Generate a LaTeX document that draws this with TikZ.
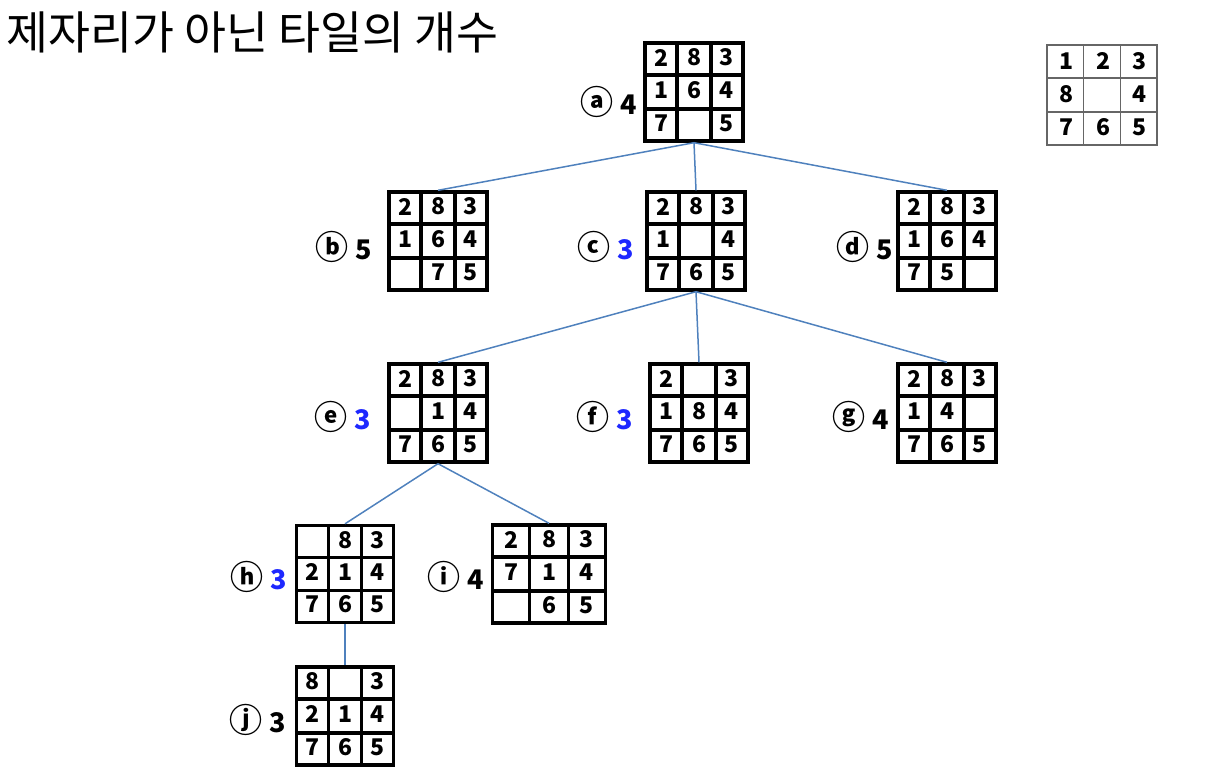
\documentclass[tikz,border=0pt]{standalone}
\usepackage{fontspec}
\setmainfont{Noto Sans CJK KR}
\usetikzlibrary{calc}

\definecolor{edgeblue}{RGB}{79,129,189}
\definecolor{hblue}{RGB}{30,40,255}

\tikzset{
	board/.style={draw, line width=1.7pt, inner sep=0pt},
	goalboard/.style={draw=black!60, line width=0.7pt, inner sep=0pt},
	cell/.style={font=\bfseries\fontsize{11.5}{12}\selectfont, inner sep=0pt},
	tag/.style={font=\bfseries\fontsize{13.5}{14}\selectfont, inner sep=0pt},
	edge/.style={draw=edgeblue, line width=0.75pt},
}

% circled letter of a label
\newcommand{\circled}[1]{{\fontsize{16.5}{17}\selectfont #1}\hspace{3.5pt}}

% name, centre, width, height, tiles, style
\newcommand{\board}[6]{%
	\node[#6, minimum width=#3*0.5pt, minimum height=#4*0.5pt] (#1) at (#2) {};
	\foreach \f in {1,2} {
		\draw[#6] ($(#1.north west)!\f/3!(#1.north east)$) -- ($(#1.south west)!\f/3!(#1.south east)$);
		\draw[#6] ($(#1.north west)!\f/3!(#1.south west)$) -- ($(#1.north east)!\f/3!(#1.south east)$);
	}
	\foreach \t [count=\k from 0, evaluate=\k as \cx using {int(mod(\k,3))}, evaluate=\k as \ry using {int(\k/3)}] in {#5}
		\node[cell] at ($(#1.north west)+({(\cx+0.5)*#3/3+2},{(\ry+0.5)*#4/3})$) {\t};
}

\begin{document}
\begin{tikzpicture}[x=0.5pt, y=-0.5pt]
	\useasboundingbox (0,0) rectangle (1220,772);

	% Title
	\node[anchor=west, inner sep=0pt, font=\fontsize{22.8}{23}\selectfont] (title) at (6,32) {제자리가 아닌 타일의 개수};

	% Goal
	\board{goal}{1102,95}{110}{100}{1,2,3,8,,4,7,6,5}{goalboard}

	% Search tree
	\board{a}{694,92}{98}{98}{2,8,3,1,6,4,7,,5}{board}
	\board{b}{438,241}{98}{98}{2,8,3,1,6,4,,7,5}{board}
	\board{c}{696,241}{98}{98}{2,8,3,1,,4,7,6,5}{board}
	\board{d}{947,241}{98}{98}{2,8,3,1,6,4,7,5,}{board}
	\board{e}{438,413}{98}{98}{2,8,3,,1,4,7,6,5}{board}
	\board{f}{699,413}{98}{98}{2,,3,1,8,4,7,6,5}{board}
	\board{g}{947,413}{98}{98}{2,8,3,1,4,,7,6,5}{board}
	\board{h}{345,574}{97}{97}{,8,3,2,1,4,7,6,5}{board}
	\board{i}{549,574}{113}{98}{2,8,3,7,1,4,,6,5}{board}
	\board{j}{345,716}{97}{98}{8,,3,2,1,4,7,6,5}{board}

	% Labels
	\node[tag] (la) at (609,102) {\circled{ⓐ}4};
	\node[tag] (lb) at (344,247) {\circled{ⓑ}5};
	\node[tag] (lc) at (606,247) {\circled{ⓒ}\textcolor{hblue}{3}};
	\node[tag] (ld) at (865,247) {\circled{ⓓ}5};
	\node[tag] (le) at (343,417) {\circled{ⓔ}\textcolor{hblue}{3}};
	\node[tag] (lf) at (605,417) {\circled{ⓕ}\textcolor{hblue}{3}};
	\node[tag] (lg) at (861,417) {\circled{ⓖ}4};
	\node[tag] (lh) at (259,577) {\circled{ⓗ}\textcolor{hblue}{3}};
	\node[tag] (li) at (456,577) {\circled{ⓘ}4};
	\node[tag] (lj) at (258,720) {\circled{ⓙ}3};

	% Edges
	\draw[edge] (a.south) -- (b.north);
	\draw[edge] (a.south) -- (c.north);
	\draw[edge] (a.south) -- (d.north);
	\draw[edge] (c.south) -- (e.north);
	\draw[edge] (c.south) -- (f.north);
	\draw[edge] (c.south) -- (g.north);
	\draw[edge] (e.south) -- (h.north);
	\draw[edge] (e.south) -- (i.north);
	\draw[edge] (h.south) -- (j.north);
\end{tikzpicture}
\end{document}
